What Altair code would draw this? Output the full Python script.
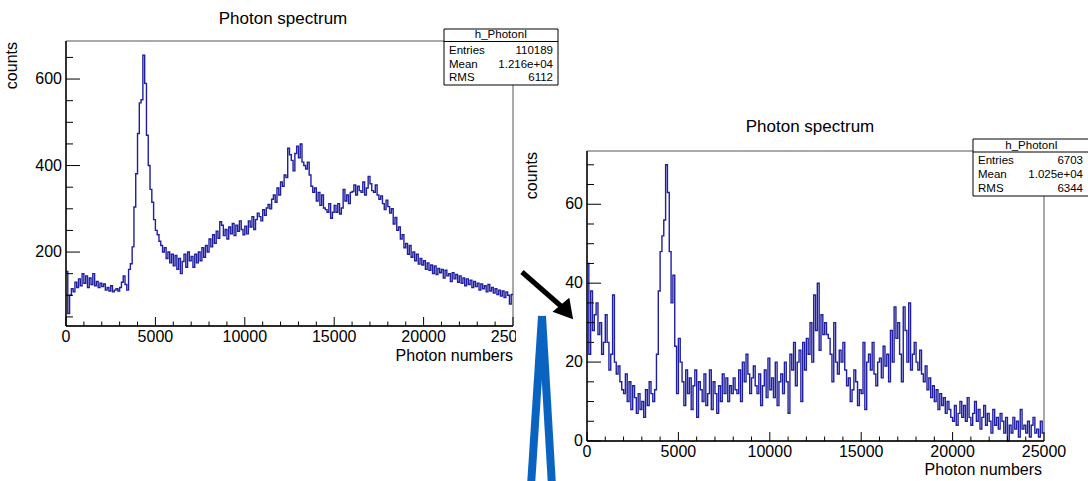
import altair as alt
import pandas as pd

W, H = 1088, 481
FONT = "Liberation Sans"
HIST_BLUE = "#1f1f9f"
MARK_BLUE = "#0b63c1"

# ---------------- data ----------------
BIN_WIDTH = 100
X_MAX = 25000

left_counts = [
    155, 58, 100, 115, 108, 130, 118, 138, 122, 150,
    128, 145, 118, 140, 125, 150, 122, 132, 118, 128,
    120, 126, 112, 118, 110, 122, 108, 112, 115, 110,
    118, 130, 145, 125, 112, 160, 173, 212, 304, 381,
    474, 545, 552, 655, 590, 470, 400, 345, 315, 275,
    250, 240, 225, 215, 200, 210, 185, 200, 175, 195,
    168, 192, 160, 185, 150, 178, 195, 165, 200, 180,
    190, 165, 195, 175, 200, 180, 210, 188, 215, 200,
    230, 212, 240, 220, 248, 232, 270, 262, 238, 252,
    230, 258, 242, 266, 238, 262, 248, 272, 252, 240,
    260, 242, 272, 258, 282, 252, 275, 290, 282, 272,
    298, 285, 302, 310, 300, 322, 332, 315, 348, 332,
    362, 352, 378, 372, 440, 425, 412, 388, 428, 445,
    418, 450, 408, 400, 392, 408, 378, 352, 338, 348,
    318, 338, 308, 332, 302, 298, 292, 312, 278, 292,
    308, 292, 312, 288, 302, 345, 318, 332, 312, 338,
    340, 355, 332, 352, 342, 338, 362, 332, 348, 375,
    358, 342, 338, 355, 332, 322, 330, 312, 298, 320,
    305, 290, 300, 265, 280, 250, 258, 230, 240, 210,
    220, 195, 215, 188, 200, 180, 195, 172, 185, 170,
    180, 160, 175, 158, 170, 150, 168, 148, 162, 152,
    160, 140, 158, 145, 150, 132, 152, 138, 148, 130,
    145, 128, 140, 122, 138, 125, 135, 118, 132, 120,
    128, 112, 126, 115, 122, 108, 125, 110, 118, 105,
    115, 102, 112, 98, 110, 95, 108, 100, 80, 102,
]

right_counts = [
    45, 22, 38, 28, 32, 35, 27, 30, 22, 25,
    32, 25, 18, 22, 37, 20, 17, 19, 15, 13,
    12, 17, 10, 15, 8, 14, 11, 7, 12, 8,
    10, 6, 13, 9, 15, 12, 10, 13, 22, 38,
    48, 52, 56, 70, 63, 48, 35, 42, 24, 12,
    26, 20, 15, 9, 18, 12, 16, 8, 14, 18,
    6, 15, 13, 10, 17, 9, 12, 18, 8, 15,
    12, 7, 14, 10, 17, 12, 16, 10, 14, 12,
    16, 13, 12, 18, 10, 20, 15, 22, 17, 12,
    16, 19, 14, 12, 17, 9, 14, 18, 11, 21,
    13, 16, 11, 20, 9, 15, 17, 12, 20, 15,
    7, 22, 18, 25, 14, 20, 23, 10, 25, 18,
    26, 22, 30, 20, 37, 28, 40, 23, 32, 27,
    30, 27, 26, 22, 15, 30, 20, 17, 23, 20,
    25, 18, 14, 16, 10, 13, 18, 15, 9, 13,
    12, 25, 8, 20, 22, 18, 25, 17, 14, 20,
    21, 16, 24, 19, 22, 15, 28, 20, 34, 26,
    30, 22, 15, 34, 28, 20, 35, 18, 22, 25,
    20, 18, 23, 17, 15, 19, 13, 16, 11, 14,
    10, 13, 8, 12, 9, 11, 7, 10, 8, 6,
    5, 9, 4, 7, 10, 6, 9, 5, 11, 6,
    4, 7, 10, 5, 8, 3, 6, 9, 4, 7,
    5, 2, 8, 4, 6, 3, 7, 5, 2, 6,
    0, 4, 2, 6, 3, 5, 1, 8, 3, 4,
    2, 5, 1, 4, 6, 2, 3, 1, 5, 2,
]

x_major = [0, 5000, 10000, 15000, 20000, 25000]
x_major_labels = ["0", "5000", "10000", "15000", "20000", "25000"]
x_minor = [v for v in range(0, X_MAX + 1, 1000) if v % 5000]

left_y_major = [200, 400, 600]
left_y_labels = ["200", "400", "600"]
left_y_minor = [v for v in range(50, 688, 50) if v % 200]

right_y_major = [0, 20, 40, 60]
right_y_labels = ["0", "20", "40", "60"]
right_y_minor = [v for v in range(5, 74, 5) if v % 20]

title_text = "Photon spectrum"
x_title = "Photon numbers"
y_title = "counts"
stats_name = "h_PhotonI"
stats_rows = ["Entries", "Mean", "RMS"]
left_stats = ["110189", "1.216e+04", "6112"]
right_stats = ["6703", "1.025e+04", "6344"]

# ---------------- layout (pixels) ----------------
LEFT = dict(xr=[66, 513], yr=[326, 41], ydom=[29, 688],
            title=(283, 18.5), ylab_x=62, xlab_y=337, ytitle=(12, 42), xtitle=(513, 356),
            box=dict(x0=444, x1=558, y0=29, yh=41.5, y1=85, rows=[50.5, 64.5, 78]))
RIGHT = dict(xr=[587, 1044], yr=[441, 151], ydom=[0, 73.5],
             title=(810, 127), ylab_x=583, xlab_y=452, ytitle=(532, 152), xtitle=(1042, 470),
             box=dict(x0=973, x1=1090, y0=139, yh=152, y1=196, rows=[161, 175, 189]))
COVER = dict(x0=516, x1=W, y0=100, y1=H)          # white area of the pasted right picture
ARROW_SHAFT = [(522, 272), (562, 307)]
ARROW_HEAD = (567, 312)
V_LEGS = [("a", 542, 316), ("a", 531, 486), ("b", 542, 316), ("b", 552, 486)]

MAJ_X, MIN_X = 9, 4.5     # x-axis tick lengths
MAJ_Y, MIN_Y = 14, 7      # y-axis tick lengths

CX = alt.Scale(domain=[0, W], range=[0, W], nice=False, zero=False)
CY = alt.Scale(domain=[0, H], range=[0, H], nice=False, zero=False)


def canvas_x(f):
    return alt.X(f, type="quantitative", scale=CX, axis=None)


def canvas_y(f):
    return alt.Y(f, type="quantitative", scale=CY, axis=None)


def panel(counts, y_major, y_labels, y_minor, lay):
    X = alt.Scale(domain=[0, X_MAX], range=lay["xr"], nice=False, zero=False)
    Y = alt.Scale(domain=lay["ydom"], range=lay["yr"], nice=False, zero=False)
    x0, x1 = lay["xr"]
    y0, y1 = lay["yr"]
    edges = [i * BIN_WIDTH for i in range(len(counts))] + [X_MAX]
    df = pd.DataFrame({"x": edges, "y": counts + [counts[-1]]})
    frame_df = pd.DataFrame({"xa": [0], "xb": [X_MAX], "ya": [lay["ydom"][0]], "yb": [lay["ydom"][1]]})

    ex = lambda f: alt.X(f, type="quantitative", scale=X, axis=None)
    ey = lambda f: alt.Y(f, type="quantitative", scale=Y, axis=None)

    frame = alt.Chart(frame_df).mark_rect(fillOpacity=0, stroke="#555555", strokeWidth=1).encode(
        x=ex("xa"), x2="xb", y=ey("ya"), y2="yb")
    hist = alt.Chart(df).mark_line(interpolate="step-after", color=HIST_BLUE, strokeWidth=1.4).encode(
        x=ex("x"), y=ey("y"))
    yaxis_line = alt.Chart(frame_df).mark_rule(color="black", strokeWidth=1.4).encode(
        x=ex("xa"), y=ey("ya"), y2="yb")
    xaxis_line = alt.Chart(frame_df).mark_rule(color="black", strokeWidth=1.4).encode(
        x=ex("xa"), x2="xb", y=ey("ya"))

    xt_major = alt.Chart(pd.DataFrame({"v": x_major})).mark_rule(color="black", strokeWidth=1).encode(
        x=ex("v"), y=alt.value(y0), y2=alt.value(y0 - MAJ_X))
    xt_minor = alt.Chart(pd.DataFrame({"v": x_minor})).mark_rule(color="black", strokeWidth=1).encode(
        x=ex("v"), y=alt.value(y0), y2=alt.value(y0 - MIN_X))
    yt_major = alt.Chart(pd.DataFrame({"v": y_major})).mark_rule(color="black", strokeWidth=1).encode(
        y=ey("v"), x=alt.value(x0), x2=alt.value(x0 + MAJ_Y))
    yt_minor = alt.Chart(pd.DataFrame({"v": y_minor})).mark_rule(color="black", strokeWidth=1).encode(
        y=ey("v"), x=alt.value(x0), x2=alt.value(x0 + MIN_Y))

    xlabels = alt.Chart(pd.DataFrame({"v": x_major, "t": x_major_labels})).mark_text(
        font=FONT, fontSize=16, align="center", baseline="middle", color="black").encode(
        x=ex("v"), y=alt.value(lay["xlab_y"]), text="t:N")
    ylabels = alt.Chart(pd.DataFrame({"v": y_major, "t": y_labels})).mark_text(
        font=FONT, fontSize=16, align="right", baseline="middle", color="black").encode(
        y=ey("v"), x=alt.value(lay["ylab_x"]), text="t:N")

    tx, ty = lay["title"]
    title = alt.Chart(pd.DataFrame({"t": [title_text]})).mark_text(
        font=FONT, fontSize=17, align="center", baseline="middle", color="black").encode(
        x=alt.value(tx), y=alt.value(ty), text="t:N")
    xtx, xty = lay["xtitle"]
    xtitle = alt.Chart(pd.DataFrame({"t": [x_title]})).mark_text(
        font=FONT, fontSize=16, align="right", baseline="middle", color="black").encode(
        x=alt.value(xtx), y=alt.value(xty), text="t:N")
    ytx, yty = lay["ytitle"]
    ytitle = alt.Chart(pd.DataFrame({"t": [y_title]})).mark_text(
        font=FONT, fontSize=16, align="right", baseline="middle", angle=270, color="black").encode(
        x=alt.value(ytx), y=alt.value(yty), text="t:N")

    return alt.layer(frame, hist, xt_major, xt_minor, yt_major, yt_minor, yaxis_line, xaxis_line,
                     xlabels, ylabels, title, xtitle, ytitle)


def stats_box(values, box):
    rect_df = pd.DataFrame({"x0": [box["x0"]], "x1": [box["x1"]], "y0": [box["y0"]], "y1": [box["y1"]],
                            "yh": [box["yh"]]})
    rect = alt.Chart(rect_df).mark_rect(fill="white", stroke="black", strokeWidth=1).encode(
        x=canvas_x("x0"), x2="x1", y=canvas_y("y0"), y2="y1")
    sep = alt.Chart(rect_df).mark_rule(color="black", strokeWidth=1).encode(
        x=canvas_x("x0"), x2="x1", y=canvas_y("yh"))
    head_df = pd.DataFrame({"x": [(box["x0"] + min(box["x1"], W + 2)) / 2],
                            "y": [(box["y0"] + box["yh"]) / 2], "t": [stats_name]})
    head = alt.Chart(head_df).mark_text(font=FONT, fontSize=11.5, align="center", baseline="middle",
                                        color="black").encode(x=canvas_x("x"), y=canvas_y("y"), text="t:N")
    rows_df = pd.DataFrame({"y": box["rows"], "name": stats_rows, "val": values,
                            "xl": [box["x0"] + 5] * 3, "xr": [min(box["x1"], W) - 5] * 3})
    names = alt.Chart(rows_df).mark_text(font=FONT, fontSize=11.5, align="left", baseline="middle",
                                         color="black").encode(x=canvas_x("xl"), y=canvas_y("y"), text="name:N")
    vals = alt.Chart(rows_df).mark_text(font=FONT, fontSize=11.5, align="right", baseline="middle",
                                        color="black").encode(x=canvas_x("xr"), y=canvas_y("y"), text="val:N")
    return alt.layer(rect, sep, head, names, vals)


left_panel = panel(left_counts, left_y_major, left_y_labels, left_y_minor, LEFT)
right_panel = panel(right_counts, right_y_major, right_y_labels, right_y_minor, RIGHT)

cover = alt.Chart(pd.DataFrame([COVER])).mark_rect(fill="white").encode(
    x=canvas_x("x0"), x2="x1", y=canvas_y("y0"), y2="y1")

shaft_df = pd.DataFrame({"x": [p[0] for p in ARROW_SHAFT], "y": [p[1] for p in ARROW_SHAFT]})
shaft = alt.Chart(shaft_df).mark_line(color="black", strokeWidth=5, strokeCap="butt").encode(
    x=canvas_x("x"), y=canvas_y("y"))
head = alt.Chart(pd.DataFrame({"x": [ARROW_HEAD[0]], "y": [ARROW_HEAD[1]]})).mark_point(
    shape="triangle-up", filled=True, size=480, angle=140, color="black", opacity=1).encode(
    x=canvas_x("x"), y=canvas_y("y"))
legs_df = pd.DataFrame(V_LEGS, columns=["leg", "x", "y"])
legs = alt.Chart(legs_df).mark_line(color=MARK_BLUE, strokeWidth=8, strokeCap="butt").encode(
    x=canvas_x("x"), y=canvas_y("y"), detail="leg:N")
annotations = alt.layer(shaft, head, legs)

chart = alt.layer(
    left_panel,
    stats_box(left_stats, LEFT["box"]),
    cover,
    right_panel,
    stats_box(right_stats, RIGHT["box"]),
    annotations,
).resolve_scale(x="independent", y="independent").properties(
    width=W, height=H, padding=0, autosize="none", background="white"
).configure_view(strokeWidth=0)

chart.save("out.html", embed_options={"renderer": "svg", "actions": False})
